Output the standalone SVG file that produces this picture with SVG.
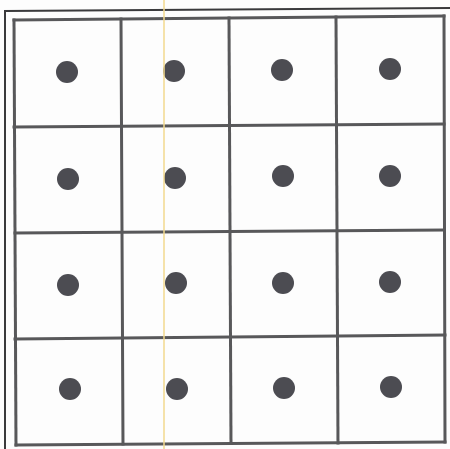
<svg xmlns="http://www.w3.org/2000/svg" width="450" height="449" viewBox="0 0 450 449">
<style>
.g{stroke:#58585a;stroke-width:3;fill:none;stroke-linecap:square}
.f{stroke:#3a3a3c;stroke-width:2;fill:none}
.d{fill:#4c4c52}
</style>
<rect width="450" height="449" fill="#fdfdfd"/>
<g id="frame">
<path class="f" d="M5,449 L5,11 L450,8"/>
</g>
<g id="grid">
<line class="g" x1="14" y1="20" x2="444" y2="16"/>
<line class="g" x1="14" y1="127" x2="444" y2="124"/>
<line class="g" x1="15" y1="233" x2="444" y2="230"/>
<line class="g" x1="15" y1="339" x2="445" y2="335"/>
<line class="g" x1="16" y1="445" x2="445" y2="442"/>
<line class="g" x1="14" y1="20" x2="16" y2="445"/>
<line class="g" x1="121" y1="19" x2="123" y2="444"/>
<line class="g" x1="229" y1="18" x2="231" y2="443"/>
<line class="g" x1="336" y1="17" x2="338" y2="443"/>
<line class="g" x1="444" y1="16" x2="445" y2="442"/>
</g>
<g id="dots">
<circle class="d" cx="67" cy="72" r="11"/>
<circle class="d" cx="174" cy="71" r="11"/>
<circle class="d" cx="282" cy="70" r="11"/>
<circle class="d" cx="390" cy="69" r="11"/>
<circle class="d" cx="68" cy="179" r="11"/>
<circle class="d" cx="175" cy="178" r="11"/>
<circle class="d" cx="283" cy="176" r="11"/>
<circle class="d" cx="390" cy="176" r="11"/>
<circle class="d" cx="68" cy="285" r="11"/>
<circle class="d" cx="176" cy="283" r="11"/>
<circle class="d" cx="283" cy="283" r="11"/>
<circle class="d" cx="390" cy="282" r="11"/>
<circle class="d" cx="70" cy="389" r="11"/>
<circle class="d" cx="177" cy="389" r="11"/>
<circle class="d" cx="284" cy="388" r="11"/>
<circle class="d" cx="391" cy="387" r="11"/>
</g>
<line x1="164" y1="0" x2="164" y2="449" stroke="#f2d98e" stroke-width="1.5"/>
</svg>
